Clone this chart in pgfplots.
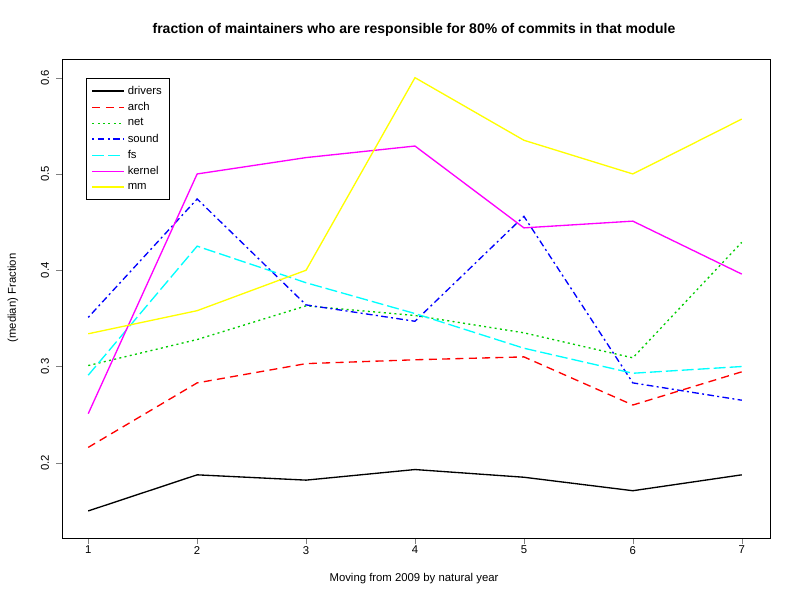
\documentclass[border=0pt]{standalone}
\usepackage{pgfplots}
\pgfplotsset{compat=1.18}
\usepackage{fontspec}
\setmainfont{Liberation Sans}
\definecolor{rgreen}{HTML}{00CD00}
\definecolor{rcyan}{HTML}{00FFFF}
\definecolor{rmag}{HTML}{FF00FF}
\definecolor{ryel}{HTML}{FFFF00}
\begin{document}
\begin{tikzpicture}[x=0.75pt,y=0.75pt]
\useasboundingbox (0,0) rectangle (800,600);
\begin{axis}[at={(57,64)},anchor=south west,scale only axis,
  width=531pt,height=359.25pt,
  xmin=0.76,xmax=7.26,ymin=0.1215,ymax=0.619,
  xtick={1,...,7},ytick={0.2,0.3,0.4,0.5,0.6},
  yticklabel style={rotate=90,/pgf/number format/fixed,/pgf/number format/precision=1},
  /pgf/number format/assume math mode=true,
  tick align=outside,axis x line*=bottom,axis y line*=left,
  tick label style={font=\fontsize{8.5}{10}\selectfont},
  xticklabel style={yshift=2pt},yticklabel style={yshift=2pt},
  clip=false,
  legend style={at={(0.034,0.962)},anchor=north west,draw=black,font=\fontsize{8.5}{10}\selectfont,row sep=0.6pt,inner sep=4pt},
  legend cell align=left,
  legend image code/.code={\draw[#1] (0pt,0pt) -- (24pt,0pt);},
  every axis plot/.append style={line width=1pt,no marks},
  ]
\draw (rel axis cs:0,0) rectangle (rel axis cs:1,1);
\addplot[black] coordinates {(1,0.150)(2,0.1875)(3,0.182)(4,0.193)(5,0.185)(6,0.171)(7,0.1875)};
\addplot[red,dash pattern=on 6pt off 4pt] coordinates {(1,0.216)(2,0.283)(3,0.303)(4,0.307)(5,0.310)(6,0.260)(7,0.2945)};
\addplot[rgreen,dash pattern=on 1.5pt off 2.5pt] coordinates {(1,0.301)(2,0.328)(3,0.363)(4,0.353)(5,0.335)(6,0.309)(7,0.429)};
\addplot[blue,dash pattern=on 1.5pt off 2.5pt on 5pt off 2.5pt] coordinates {(1,0.351)(2,0.474)(3,0.364)(4,0.347)(5,0.456)(6,0.283)(7,0.265)};
\addplot[rcyan,dash pattern=on 9pt off 3pt] coordinates {(1,0.291)(2,0.425)(3,0.387)(4,0.355)(5,0.319)(6,0.293)(7,0.300)};
\addplot[rmag] coordinates {(1,0.251)(2,0.500)(3,0.517)(4,0.529)(5,0.444)(6,0.451)(7,0.396)};
\addplot[ryel] coordinates {(1,0.334)(2,0.358)(3,0.400)(4,0.600)(5,0.535)(6,0.500)(7,0.557)};
\legend{drivers,arch,net,sound,fs,kernel,mm}
\end{axis}
\node[font=\bfseries\fontsize{10.5}{12}\selectfont] at (414,570) {fraction of maintainers who are responsible for 80\% of commits in that module};
\node[font=\fontsize{8.5}{10}\selectfont] at (414,21) {Moving from 2009 by natural year};
\node[font=\fontsize{8.5}{10}\selectfont,rotate=90] at (13,302) {(median) Fraction};
\end{tikzpicture}
\end{document}
